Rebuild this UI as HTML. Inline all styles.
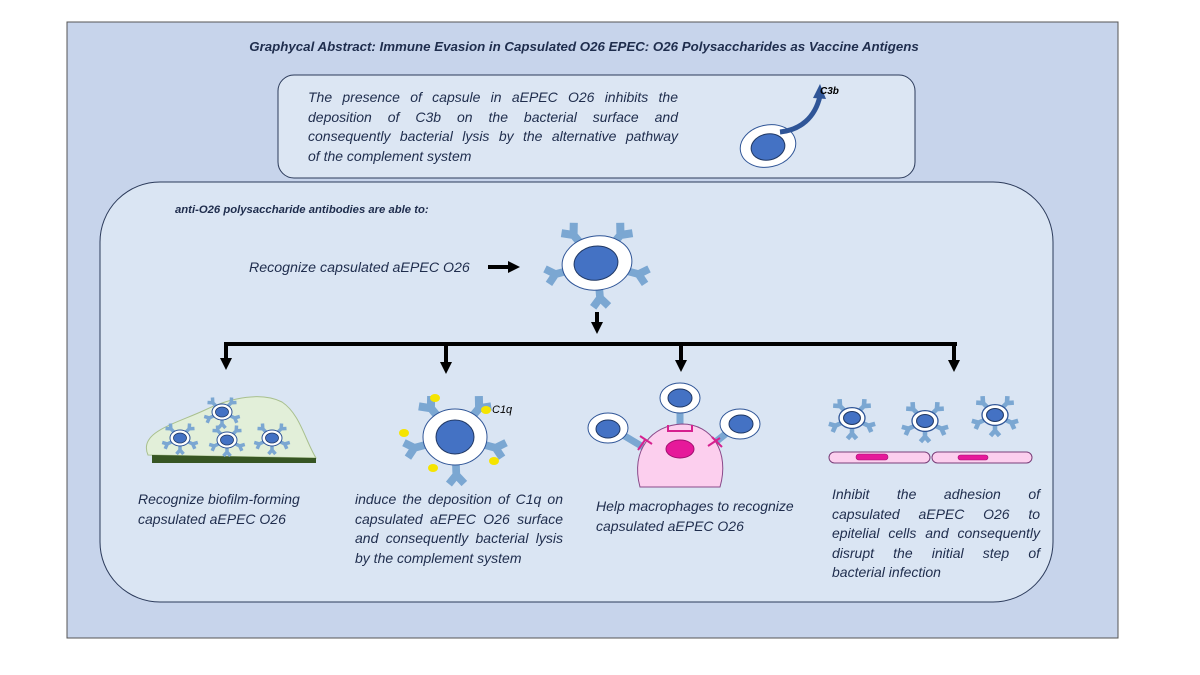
<!DOCTYPE html>
<html><head><meta charset="utf-8"><style>
html,body{margin:0;padding:0;background:#fff}
#w{position:relative;width:1200px;height:675px;overflow:hidden;font-family:"Liberation Sans",sans-serif;font-style:italic;color:#1f2d4d}
svg{position:absolute;left:0;top:0}
.t{position:absolute;font-size:14px;line-height:19.5px;white-space:nowrap}
.t div{text-align:justify;text-align-last:justify;white-space:normal}
.t div.l{text-align-last:left}
</style></head><body><div id="w">
<svg width="1200" height="675" viewBox="0 0 1200 675">
<defs>
<g id="ab"><path d="M0,0 L0,-10 M0,-10 L-7,-18 M0,-10 L7,-18" stroke="#7ba7d2" stroke-width="7" fill="none"/></g>
<g id="cell"><ellipse rx="10" ry="8" fill="#fff" stroke="#2f5597" stroke-width="1"/><ellipse rx="6.5" ry="5" fill="#4472c4" stroke="#203864" stroke-width="0.8"/></g>
<g id="sc">
<use href="#ab" transform="rotate(-45) translate(0,-8) scale(0.5)"/>
<use href="#ab" transform="rotate(45) translate(0,-8) scale(0.5)"/>
<use href="#ab" transform="rotate(-115) translate(0,-9) scale(0.5)"/>
<use href="#ab" transform="rotate(115) translate(0,-9) scale(0.5)"/>
<use href="#ab" transform="rotate(180) translate(0,-7) scale(0.5)"/>
<use href="#cell"/>
</g>
<marker id="ah" viewBox="0 0 10 10" refX="5" refY="5" markerWidth="3" markerHeight="3" orient="auto"><path d="M0,0 L10,5 L0,10 Z" fill="#000"/></marker>
</defs>
<rect x="67" y="22" width="1051" height="616" fill="#c7d4eb" stroke="#555" stroke-width="1"/>
<rect x="278" y="75" width="637" height="103" rx="16" fill="#dce6f3" stroke="#2b3a5a" stroke-width="1"/>
<rect x="100" y="182" width="953" height="420" rx="60" fill="#dae5f3" stroke="#2b3a5a" stroke-width="1"/>
<text x="584" y="51" text-anchor="middle" font-size="13.3" font-weight="bold" fill="#1f2d4d">Graphycal Abstract: Immune Evasion in Capsulated O26 EPEC: O26 Polysaccharides as Vaccine Antigens</text>
<ellipse cx="768" cy="146" rx="28" ry="21" transform="rotate(-12 768 146)" fill="#fff" stroke="#2f5597"/>
<ellipse cx="768" cy="147" rx="17" ry="13" transform="rotate(-12 768 147)" fill="#4472c4" stroke="#203864"/>
<path d="M780,132 C800,130 815,118 820,96" stroke="#2f5597" stroke-width="5" fill="none"/>
<path d="M813,98 L820,84 L826,99 Z" fill="#2f5597"/>
<text x="820" y="94" font-size="10" font-weight="bold" fill="#000">C3b</text>
<g transform="translate(597,263)">
<use href="#ab" transform="rotate(-40) translate(0,-25) scale(1.15)"/>
<use href="#ab" transform="rotate(40) translate(0,-25) scale(1.15)"/>
<use href="#ab" transform="rotate(-105) translate(0,-32) scale(1.1)"/>
<use href="#ab" transform="rotate(105) translate(0,-32) scale(1.1)"/>
<use href="#ab" transform="rotate(175) translate(0,-24) scale(1.1)"/>
<ellipse rx="35" ry="27" transform="rotate(-8)" fill="#fff" stroke="#2f5597"/>
<ellipse cx="-1" rx="22" ry="17" transform="rotate(-8)" fill="#4472c4" stroke="#203864"/>
</g>
<line x1="488" y1="267" x2="514" y2="267" stroke="#000" stroke-width="4" marker-end="url(#ah)"/>
<line x1="597" y1="312" x2="597" y2="328" stroke="#000" stroke-width="4" marker-end="url(#ah)"/>
<line x1="224" y1="344" x2="957" y2="344" stroke="#000" stroke-width="4"/>
<g stroke="#000" stroke-width="4" marker-end="url(#ah)">
<line x1="226" y1="342" x2="226" y2="364"/><line x1="446" y1="342" x2="446" y2="368"/>
<line x1="681" y1="342" x2="681" y2="366"/><line x1="954" y1="342" x2="954" y2="366"/></g>
<path d="M148,455 C138,432 175,424 205,410 C232,397 262,392 282,402 C300,414 305,440 316,458 Z" fill="#e2efd9" stroke="#a9c08e"/>
<path d="M152,455 L316,458 L316,463 L152,463 Z" fill="#375623"/>
<use href="#sc" transform="translate(180,438)"/><use href="#sc" transform="translate(227,440)"/>
<use href="#sc" transform="translate(272,438)"/><use href="#sc" transform="translate(222,412)"/>
<g transform="translate(455,437)">
<use href="#ab" transform="rotate(-40) translate(0,-26) scale(1.15)"/>
<use href="#ab" transform="rotate(40) translate(0,-26) scale(1.15)"/>
<use href="#ab" transform="rotate(-105) translate(0,-31) scale(1.1)"/>
<use href="#ab" transform="rotate(105) translate(0,-31) scale(1.1)"/>
<use href="#ab" transform="rotate(178) translate(0,-27) scale(1.1)"/>
<ellipse rx="32" ry="28" fill="#fff" stroke="#2f5597"/>
<ellipse rx="19" ry="17" fill="#4472c4" stroke="#203864"/>
</g>
<g fill="#f5e400"><ellipse cx="435" cy="398" rx="5" ry="4"/><ellipse cx="486" cy="410" rx="5" ry="4"/><ellipse cx="404" cy="433" rx="5" ry="4"/><ellipse cx="494" cy="461" rx="5" ry="4"/><ellipse cx="433" cy="468" rx="5" ry="4"/></g>
<text x="492" y="413" font-size="11" fill="#000">C1q</text>
<g stroke="#7ba7d2" stroke-width="7"><line x1="618" y1="432" x2="648" y2="450"/><line x1="680" y1="408" x2="680" y2="428"/><line x1="728" y1="432" x2="708" y2="448"/></g>
<path d="M640,487 C630,450 652,425 682,424 C712,424 730,452 720,487 Z" fill="#fccfee" stroke="#8a4a8a"/>
<ellipse cx="680" cy="449" rx="14" ry="9" fill="#e6199a" stroke="#a01070"/>
<g stroke="#d6218f" stroke-width="2" fill="none"><path d="M668,425 L668,431 L692,431 L692,425"/><path d="M645,440 L638,450 M640,436 L652,444"/><path d="M712,437 L722,447 M708,446 L720,438"/></g>
<g fill="#fff" stroke="#2f5597"><ellipse cx="608" cy="428" rx="20" ry="15"/><ellipse cx="680" cy="398" rx="20" ry="15"/><ellipse cx="740" cy="424" rx="20" ry="15"/></g>
<g fill="#4472c4" stroke="#203864"><ellipse cx="608" cy="429" rx="12" ry="9"/><ellipse cx="680" cy="398" rx="12" ry="9"/><ellipse cx="741" cy="424" rx="12" ry="9"/></g>
<rect x="829" y="452" width="101" height="11" rx="5.5" fill="#fccfee" stroke="#7a3f7a"/>
<rect x="932" y="452" width="100" height="11" rx="5.5" fill="#fccfee" stroke="#7a3f7a"/>
<rect x="856" y="454" width="32" height="6" rx="3" fill="#e6199a" stroke="#a01070" stroke-width="0.6"/>
<rect x="958" y="455" width="30" height="5" rx="2.5" fill="#e6199a" stroke="#a01070" stroke-width="0.6"/>
<use href="#sc" transform="translate(852,418) scale(1.3)"/><use href="#sc" transform="translate(925,421) scale(1.3)"/><use href="#sc" transform="translate(995,415) scale(1.3)"/>
<text x="175" y="213" font-size="11.3" font-weight="bold" fill="#1f2d4d">anti-O26 polysaccharide antibodies are able to:</text>
<text x="249" y="272" font-size="14.2" fill="#1f2d4d">Recognize capsulated aEPEC O26</text>
</svg>
<div class="t" style="left:308px;top:88px;width:370px"><div>The presence of capsule in aEPEC O26 inhibits the</div><div>deposition of C3b on the bacterial surface and</div><div>consequently bacterial lysis by the alternative pathway</div><div class="l">of the complement system</div></div>
<div class="t" style="left:138px;top:490px;width:175px"><div class="l">Recognize biofilm-forming</div><div class="l">capsulated aEPEC O26</div></div>
<div class="t" style="left:355px;top:490px;width:208px"><div>induce the deposition of C1q on</div><div>capsulated aEPEC O26 surface</div><div>and consequently bacterial lysis</div><div class="l">by the complement system</div></div>
<div class="t" style="left:596px;top:497px;width:215px"><div class="l">Help macrophages to recognize</div><div class="l">capsulated aEPEC O26</div></div>
<div class="t" style="left:832px;top:485px;width:208px"><div>Inhibit the adhesion of</div><div>capsulated aEPEC O26 to</div><div>epitelial cells and consequently</div><div>disrupt the initial step of</div><div class="l">bacterial infection</div></div>
</div></body></html>
